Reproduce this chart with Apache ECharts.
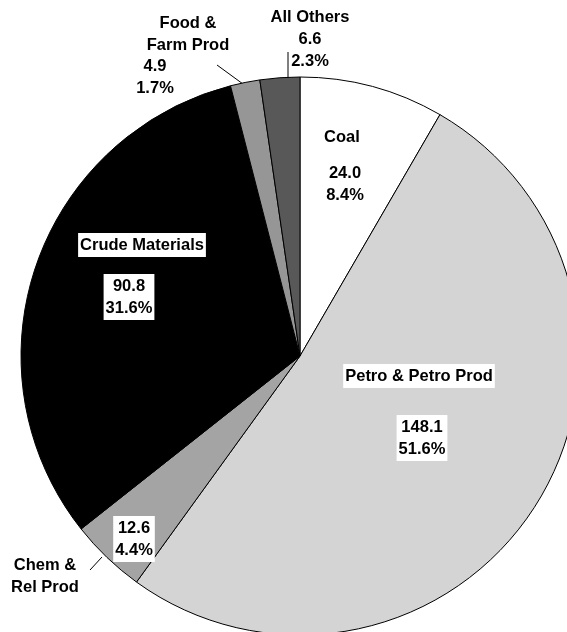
<!DOCTYPE html>
<html>
<head>
<meta charset="utf-8">
<script src="https://cdn.jsdelivr.net/npm/echarts@6/dist/echarts.min.js"></script>
<style>
html, body { margin: 0; padding: 0; background: #fff; }
#chart { width: 567px; height: 632px; }
</style>
</head>
<body>
<div id="chart"></div>
<script>
// data
const categories = ['Coal', 'Petro & Petro Prod', 'Chem & Rel Prod', 'Crude Materials', 'Food & Farm Prod', 'All Others']
const nameLabels = ['Coal', 'Petro & Petro Prod', 'Chem &\nRel Prod', 'Crude Materials', 'Food &\nFarm Prod', 'All Others']
const values = [24.0, 148.1, 12.6, 90.8, 4.9, 6.6]

// styling
const fills = ['#ffffff', '#d4d4d4', '#a4a4a4', '#000000', '#969696', '#585858']
const nameBox = [false, true, false, true, false, false]
const valueBox = [false, true, true, true, false, false]
const namePos = [[342, 137], [419, 376], [45, 576], [142, 245], [188, 34], [310, 39]]
const valuePos = [[345, 184], [422, 438], [134, 539], [129, 297], [155, 77], null]
const leaders = { 2: [[102, 557], [90, 570]], 4: [[243, 84], [217, 65]], 5: [[288, 80], [288, 52]] }
const outside = [false, false, true, false, true, true]

const font = {
    fontFamily: 'Liberation Sans, Arial, sans-serif',
    fontWeight: 'bold',
    fontSize: 16.5,
    lineHeight: 22,
    color: '#000'
}

const chart = echarts.init(document.getElementById('chart'))

const nameData = categories.map((c, i) => ({
    name: c,
    value: values[i],
    itemStyle: { color: fills[i], borderColor: '#000', borderWidth: 1 },
    label: Object.assign({
        show: true,
        position: outside[i] ? 'outside' : 'inside',
        backgroundColor: nameBox[i] ? '#fff' : 'transparent',
        padding: nameBox[i] ? [2, 2, 0, 2] : 0
    }, font),
    labelLine: { show: outside[i], length: 10, length2: 10, lineStyle: { color: '#000', width: 1 } }
}))

const valueData = categories.map((c, i) => ({
    name: c,
    value: values[i],
    label: Object.assign({
        show: valuePos[i] != null,
        position: 'inside',
        backgroundColor: valueBox[i] ? '#fff' : 'transparent',
        padding: valueBox[i] ? [2, 2, 0, 2] : 0
    }, font)
}))

const option = {
    animation: false,
    series: [
        {
            type: 'pie',
            center: [300, 356],
            radius: 279,
            startAngle: 90,
            clockwise: true,
            percentPrecision: 1,
            avoidLabelOverlap: false,
            silent: true,
            data: nameData,
            label: {
                formatter(params) {
                    if (params.dataIndex === 5) {
                        return nameLabels[5] + '\n' + params.value.toFixed(1) + '\n' + params.percent.toFixed(1) + '%'
                    }
                    return nameLabels[params.dataIndex]
                }
            },
            labelLayout(params) {
                const p = namePos[params.dataIndex]
                const res = { x: p[0], y: p[1], align: 'center', verticalAlign: 'middle' }
                if (leaders[params.dataIndex]) {
                    res.labelLinePoints = leaders[params.dataIndex]
                }
                return res
            }
        },
        {
            type: 'pie',
            center: [300, 356],
            radius: 279,
            startAngle: 90,
            clockwise: true,
            percentPrecision: 1,
            avoidLabelOverlap: false,
            silent: true,
            itemStyle: { color: 'rgba(0,0,0,0)' },
            data: valueData,
            label: {
                formatter(params) {
                    return params.value.toFixed(1) + '\n' + params.percent.toFixed(1) + '%'
                }
            },
            labelLine: { show: false },
            labelLayout(params) {
                const p = valuePos[params.dataIndex] || [0, 0]
                return { x: p[0], y: p[1], align: 'center', verticalAlign: 'middle' }
            }
        }
    ]
}

chart.setOption(option)
</script>
</body>
</html>
